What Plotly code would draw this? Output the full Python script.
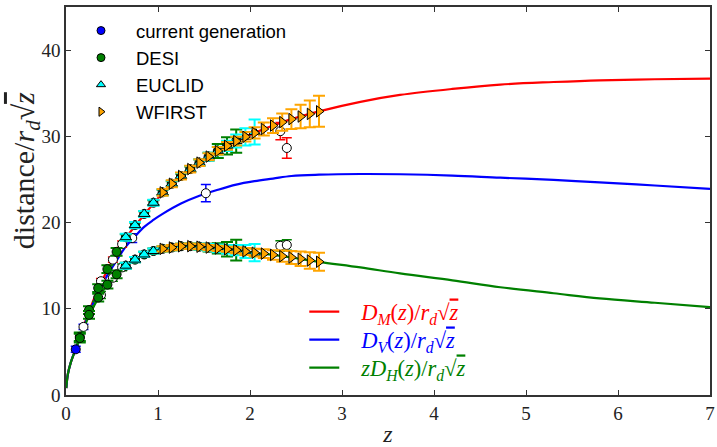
import plotly.graph_objects as go

# ---- theory curves ----
curve_z = [0.003, 0.02, 0.05, 0.1, 0.15, 0.25, 0.35, 0.45, 0.55, 0.65, 0.75, 0.85, 0.95, 1.05,
           1.25, 1.45, 1.65, 1.85, 2.05, 2.25, 2.45, 2.75, 3.2, 3.63, 4.2, 4.72, 5.3, 5.8, 6.4, 7.0]
curve_dm = [0.8, 2.4, 3.7, 5.2, 6.7, 9.7, 12.3, 14.5, 16.5, 18.2, 19.6, 20.9, 22.2, 23.4,
            25.35, 26.95, 28.3, 29.45, 30.4, 31.25, 32.0, 32.9, 34.0, 34.8, 35.5, 36.0, 36.3, 36.5, 36.62, 36.7]
curve_dv = [0.8, 2.4, 3.7, 5.2, 6.6, 9.5, 11.9, 13.9, 15.6, 17.2, 18.4, 19.5, 20.3, 21.0,
            22.2, 23.1, 23.8, 24.4, 24.8, 25.1, 25.4, 25.55, 25.63, 25.6, 25.45, 25.2, 24.95, 24.65, 24.3, 23.9]
curve_dh = [0.8, 2.4, 3.7, 5.15, 6.5, 9.2, 11.2, 12.8, 14.0, 15.0, 15.7, 16.3, 16.7, 16.95,
            17.25, 17.2, 17.0, 16.8, 16.5, 16.25, 15.95, 15.45, 14.8, 14.1, 13.3, 12.5, 11.8, 11.2, 10.7, 10.2]

# ---- current generation ----
cg_dv_z = [0.106, 0.19, 0.72, 1.52]
cg_dv = [5.3, 7.9, 18.2, 23.4]
cg_dv_err = [0.35, 0.3, 0.5, 1.0]
cg_dm_z = [0.38, 0.51, 0.61, 2.33, 2.40]
cg_dm = [13.2, 15.7, 17.5, 30.6, 28.65]
cg_dm_err = [0.3, 0.3, 0.35, 1.0, 1.2]
cg_dh_z = [0.38, 0.51, 0.61, 2.33, 2.40]
cg_dh = [11.6, 13.6, 14.8, 17.3, 17.4]
cg_dh_err = [0.4, 0.4, 0.4, 0.6, 0.6]

# ---- DESI ----
desi_z = [0.15, 0.25, 0.35, 0.45, 0.55, 0.65, 0.75, 0.85, 0.95, 1.05, 1.15, 1.25, 1.35, 1.45,
          1.55, 1.65, 1.75, 1.85]
desi_dm = [6.75, 9.85, 12.4, 14.6, 16.6, 18.3, 19.7, 21.0, 22.3, 23.5, 24.5, 25.4, 26.2, 26.95,
           27.65, 28.3, 28.9, 29.45]
desi_dm_err = [0.5, 0.45, 0.45, 0.45, 0.45, 0.35, 0.3, 0.3, 0.3, 0.3, 0.3, 0.3, 0.3, 0.35,
               0.45, 0.8, 1.0, 1.35]
desi_dh = [6.6, 9.3, 11.3, 12.8, 14.0, 15.0, 15.7, 16.3, 16.7, 16.95, 17.1, 17.25, 17.26, 17.2,
           17.1, 17.0, 16.9, 16.8]
desi_dh_err = [0.5, 0.45, 0.45, 0.45, 0.45, 0.35, 0.3, 0.3, 0.3, 0.3, 0.3, 0.3, 0.3, 0.35,
               0.45, 0.6, 0.85, 1.2]

# ---- EUCLID ----
euc_z = [0.65, 0.75, 0.85, 0.95, 1.05, 1.15, 1.25, 1.35, 1.45, 1.55, 1.65, 1.75, 1.85, 1.95, 2.05]
euc_dm = [18.3, 19.7, 21.0, 22.3, 23.5, 24.5, 25.4, 26.2, 26.95, 27.65, 28.3, 28.9, 29.45, 29.95, 30.5]
euc_dm_err = [0.4, 0.35, 0.35, 0.35, 0.35, 0.35, 0.35, 0.35, 0.4, 0.45, 0.5, 0.6, 0.75, 1.0, 1.45]
euc_dh = [15.0, 15.7, 16.3, 16.7, 16.95, 17.1, 17.25, 17.26, 17.2, 17.1, 17.0, 16.9, 16.8, 16.65, 16.5]
euc_dh_err = [0.35, 0.3, 0.3, 0.3, 0.3, 0.3, 0.3, 0.3, 0.35, 0.4, 0.45, 0.5, 0.6, 0.75, 1.0]

# ---- WFIRST ----
wf_z = [1.05, 1.15, 1.25, 1.35, 1.45, 1.55, 1.65, 1.75, 1.85, 1.95, 2.05, 2.15, 2.25, 2.35,
        2.45, 2.55, 2.65, 2.75]
wf_dm = [23.5, 24.5, 25.4, 26.2, 26.95, 27.65, 28.3, 28.9, 29.45, 29.95, 30.4, 30.85, 31.25,
         31.65, 32.0, 32.3, 32.6, 32.9]
wf_dm_err = [0.4, 0.4, 0.4, 0.4, 0.4, 0.4, 0.45, 0.45, 0.5, 0.55, 0.65, 0.75, 0.85, 1.0,
             1.15, 1.35, 1.55, 1.8]
wf_dh = [16.95, 17.1, 17.25, 17.26, 17.2, 17.1, 17.0, 16.9, 16.8, 16.65, 16.5, 16.4, 16.25,
         16.1, 15.95, 15.8, 15.6, 15.45]
wf_dh_err = [0.3, 0.3, 0.3, 0.3, 0.3, 0.3, 0.3, 0.3, 0.35, 0.4, 0.45, 0.5, 0.55, 0.65,
             0.75, 0.85, 0.95, 1.05]

x_ticks = [0, 1, 2, 3, 4, 5, 6, 7]
y_ticks = [0, 10, 20, 30, 40]

RED, BLUE, GREEN = "#ff0000", "#0000ff", "#008000"
CYAN, ORANGE = "#00ffff", "#ffa500"
SERIF = "Liberation Serif, DejaVu Serif, serif"
SANS = "Liberation Sans, Arial, sans-serif"
PAD = "\u00a0\u00a0\u00a0"
SQZ = '\u221a<span style="text-decoration:overline"><i>z</i></span>'

fig = go.Figure()

curve_names = [
    PAD + '<span style="color:#ff0000"><i>D</i><sub><i>M</i></sub>(<i>z</i>)/<i>r</i><sub><i>d</i></sub>' + SQZ + '</span>',
    PAD + '<span style="color:#0000ff"><i>D</i><sub><i>V</i></sub>(<i>z</i>)/<i>r</i><sub><i>d</i></sub>' + SQZ + '</span>',
    PAD + '<span style="color:#008000"><i>zD</i><sub><i>H</i></sub>(<i>z</i>)/<i>r</i><sub><i>d</i></sub>' + SQZ + '</span>',
]
for ys, col, nm, lg in [(curve_dm, RED, curve_names[0], "legend2"), (curve_dv, BLUE, curve_names[1], "legend3"),
                        (curve_dh, GREEN, curve_names[2], "legend4")]:
    fig.add_trace(go.Scatter(x=curve_z, y=ys, mode="lines", line=dict(color=col, width=2.2, shape="spline"),
                             name=nm, legend=lg, hoverinfo="skip"))

def errpts(x, y, err, ecol, mcol, symbol, size, ethick=2, ewidth=6):
    fig.add_trace(go.Scatter(
        x=x, y=y, mode="markers", showlegend=False,
        error_y=dict(type="data", array=err, visible=True, color=ecol, thickness=ethick, width=ewidth),
        marker=dict(symbol=symbol, size=size, color=mcol, line=dict(color="black", width=1)),
    ))

# current generation
errpts(cg_dm_z, cg_dm, cg_dm_err, RED, "white", "circle", 9, 1.5, 5)
errpts(cg_dh_z, cg_dh, cg_dh_err, GREEN, "white", "circle", 9, 1.5, 5)
errpts(cg_dv_z, cg_dv, cg_dv_err, BLUE, [BLUE, "white", "white", "white"], "circle", 9, 1.5, 5)
# DESI
errpts(desi_z, desi_dm, desi_dm_err, GREEN, GREEN, "circle", 9)
errpts(desi_z, desi_dh, desi_dh_err, GREEN, GREEN, "circle", 9)
# EUCLID
errpts(euc_z, euc_dm, euc_dm_err, CYAN, CYAN, "triangle-up", 10)
errpts(euc_z, euc_dh, euc_dh_err, CYAN, CYAN, "triangle-up", 10)
# WFIRST
errpts(wf_z, wf_dm, wf_dm_err, ORANGE, ORANGE, "triangle-right", 10)
errpts(wf_z, wf_dh, wf_dh_err, ORANGE, ORANGE, "triangle-right", 10)

# legend-only entries
for nm, col, sym in [("current generation", BLUE, "circle"), ("DESI", GREEN, "circle"),
                     ("EUCLID", CYAN, "triangle-up"), ("WFIRST", ORANGE, "triangle-right")]:
    fig.add_trace(go.Scatter(x=[None], y=[None], mode="markers", name=nm, legend="legend",
                             marker=dict(symbol=sym, size=8, color=col, line=dict(color="black", width=1))))

axis_common = dict(showline=True, linecolor="#333333", linewidth=1.5, mirror="allticks",
                   ticks="inside", ticklen=5, tickwidth=1, tickcolor="#333333",
                   showgrid=False, zeroline=False, automargin=False,
                   tickfont=dict(family=SERIF, size=19, color="#222222"))

def curve_legend(ypos):
    return dict(x=0.37, y=ypos, xanchor="left", yanchor="middle", bgcolor="rgba(0,0,0,0)",
                borderwidth=0, itemwidth=30, font=dict(family=SERIF, size=22.5, color="black"))

fig.update_layout(
    width=717, height=447,
    margin=dict(l=66, r=7, t=7, b=52, autoexpand=False),
    paper_bgcolor="white", plot_bgcolor="white",
    xaxis=dict(range=[0, 7], tickvals=x_ticks, ticktext=[str(v) for v in x_ticks],
               title=dict(text="<i>z</i>", font=dict(family=SERIF, size=24, color="#222222"), standoff=10),
               **axis_common),
    yaxis=dict(range=[0, 45], tickvals=y_ticks, ticktext=[str(v) for v in y_ticks], **axis_common),
    legend=dict(x=0.0, y=0.987, xanchor="left", yanchor="top", bgcolor="rgba(0,0,0,0)",
                borderwidth=0, itemwidth=60, traceorder="normal",
                font=dict(family=SANS, size=18.5, color="black")),
    legend2=curve_legend(0.2137),
    legend3=curve_legend(0.1416),
    legend4=curve_legend(0.0695),
    showlegend=True,
    annotations=[dict(
        text="distance/<i>r</i><sub><i>d</i></sub>\u221a<span style=\"text-decoration:overline\"><i>z</i></span>",
        textangle=-90,
        xref="paper", yref="paper", x=-0.062, y=0.577, xanchor="center", yanchor="middle",
        showarrow=False, font=dict(family=SERIF, size=30, color="#222222"))],
)

fig.write_html("out.html", config={"displayModeBar": False},
               post_script="document.body.style.margin='0';document.body.style.padding='0';")
